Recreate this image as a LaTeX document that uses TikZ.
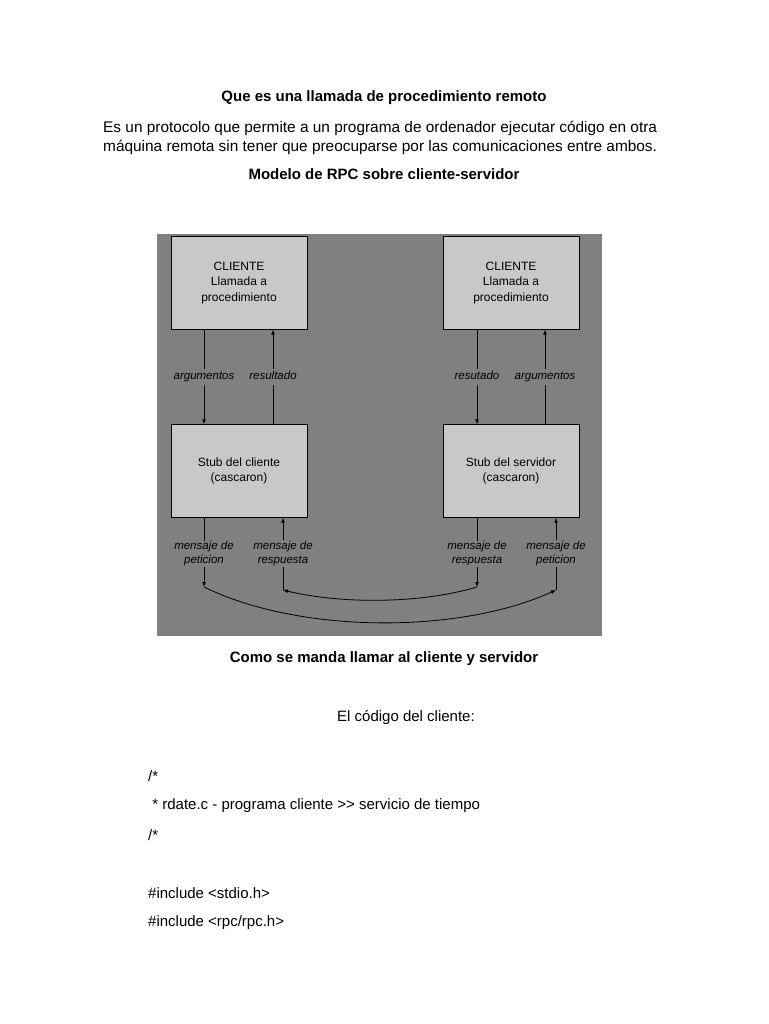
\documentclass[tikz,border=0pt]{standalone}
\usepackage{fontspec}
\setmainfont{Liberation Sans}
\usetikzlibrary{arrows.meta,positioning}
\definecolor{rpcGray}{HTML}{808080}
\definecolor{rpcBox}{HTML}{C8C8C8}

\begin{document}
\begin{tikzpicture}[x=1pt,y=-1pt,box/.style={draw=black,fill=rpcBox,minimum width=136pt,minimum height=93pt,align=center,inner sep=0pt,font=\fontsize{12}{15.5}\selectfont},lbl/.style={fill=rpcGray,inner sep=1pt,align=center,font=\fontsize{11.5}{13.5}\selectfont\itshape},flow/.style={-{Latex[length=5pt,width=4pt]},line width=.8pt},head/.style={font=\fontsize{15}{17}\selectfont\bfseries},body/.style={anchor=west,inner sep=0pt,font=\fontsize{15}{18}\selectfont}]
\useasboundingbox[fill=white] (0,0) rectangle (768,1024);
% texto de la pagina
\node[head] (titulo) at (384,98) {Que es una llamada de procedimiento remoto};
\node[body,font=\fontsize{15.4}{18}\selectfont] (def1) at (103,128) {Es un protocolo que permite a un programa de ordenador ejecutar código en otra};
\node[body,font=\fontsize{15.4}{18}\selectfont] (def2) at (103,147) {máquina remota sin tener que preocuparse por las comunicaciones entre ambos.};
\node[head] (modelo) at (384,174) {Modelo de RPC sobre cliente-servidor};
% diagrama
\node[fill=rpcGray,minimum width=445pt,minimum height=402pt,inner sep=0pt] (panel) at (379.5,435) {};
\node[box] (cli) at (239,283) {CLIENTE\\Llamada a\\procedimiento};
\node[box] (srv) at (511,283) {CLIENTE\\Llamada a\\procedimiento};
\node[box] (stc) at (239,471) {Stub del cliente\\(cascaron)};
\node[box] (sts) at (511,471) {Stub del servidor\\(cascaron)};
\coordinate (pa) at (204,587);
\coordinate (pb) at (283,590);
\coordinate (pc) at (477,587);
\coordinate (pd) at (556,590);
\draw[flow] ([xshift=-35pt]cli.south) -- node[lbl] {\strut argumentos} ([xshift=-35pt]stc.north);
\draw[flow] ([xshift=34pt]stc.north) -- node[lbl] {\strut resultado} ([xshift=34pt]cli.south);
\draw[flow] ([xshift=-34pt]srv.south) -- node[lbl] {\strut resutado} ([xshift=-34pt]sts.north);
\draw[flow] ([xshift=34pt]sts.north) -- node[lbl] {\strut argumentos} ([xshift=34pt]srv.south);
\draw[flow] ([xshift=-35pt]stc.south) -- node[lbl,pos=.52] {mensaje de\\peticion} (pa);
\draw[flow] (pb) -- node[lbl,pos=.505] {mensaje de\\respuesta} ([xshift=44pt]stc.south);
\draw[flow] ([xshift=-34pt]sts.south) -- node[lbl,pos=.52] {mensaje de\\respuesta} (pc);
\draw[flow] (pd) -- node[lbl,pos=.505] {mensaje de\\peticion} ([xshift=45pt]sts.south);
\draw[flow] (pa) .. controls (300,634) and (460,634) .. (pd);
\draw[flow] (pc) .. controls (420,604) and (340,604) .. (pb);
% codigo
\node[head] (llamada) at (384,659) {Como se manda llamar al cliente y servidor};
\node[body] (codigo) at (337,718) {El código del cliente:};
\node[body] (c1) at (148,776) {/*};
\node[body] (c2) at (148,806) {\ * rdate.c - programa cliente >{}> servicio de tiempo};
\node[body] (c3) at (148,835) {/*};
\node[body] (c4) at (148,893) {\#include <stdio.h>};
\node[body] (c5) at (148,923) {\#include <rpc/rpc.h>};
\end{tikzpicture}
\end{document}
